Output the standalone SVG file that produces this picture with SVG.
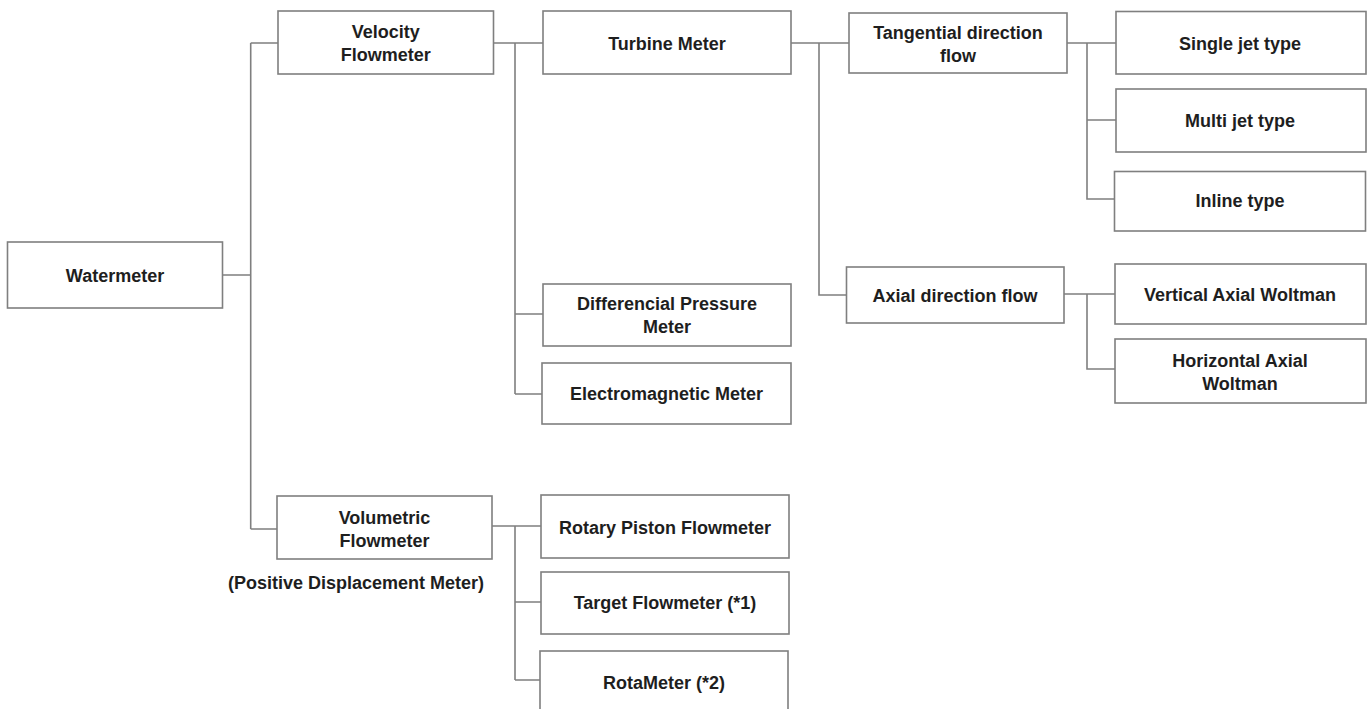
<svg xmlns="http://www.w3.org/2000/svg" width="1367" height="709" viewBox="0 0 1367 709">
<style>
.box{fill:#fff;stroke:#7f7f7f;stroke-width:1.6}
.lbl{font-family:"Liberation Sans",Arial,sans-serif;font-weight:bold;font-size:18px;fill:#1e1e1e;text-anchor:middle}
.con{fill:none;stroke:#7f7f7f;stroke-width:1.6}
</style>
<rect width="1367" height="709" fill="#fff"/>
<g id="connectors" class="con">
<path d="M222.5 275H250.7M250.7 43V529M250.7 43H278M250.7 529H277"/>
<path d="M493.5 43H543M515 43V394M515 314H543M515 394H542"/>
<path d="M492 526H541M515 526V680M515 602H541M515 680H540"/>
<path d="M791 43H849M819 43V295H846.5"/>
<path d="M1067 43H1116M1087 43V199H1114.5M1087 120H1116"/>
<path d="M1064 294H1115M1087 294V369H1115"/>
</g>
<g id="watermeter"><rect class="box" x="7.5" y="242" width="215" height="66"/><text class="lbl" x="115" y="281.5">Watermeter</text></g>
<g id="velocity"><rect class="box" x="278" y="11" width="215.5" height="63"/><text class="lbl" x="385.8" y="37.5">Velocity</text><text class="lbl" x="385.8" y="60.5">Flowmeter</text></g>
<g id="volumetric"><rect class="box" x="277" y="496" width="215" height="63"/><text class="lbl" x="384.5" y="523.5">Volumetric</text><text class="lbl" x="384.5" y="546.5">Flowmeter</text></g>
<g id="pdm-note"><text class="lbl" x="356" y="589">(Positive Displacement Meter)</text></g>
<g id="turbine"><rect class="box" x="543" y="11" width="248" height="63"/><text class="lbl" x="667" y="49.5">Turbine Meter</text></g>
<g id="differencial"><rect class="box" x="543" y="284" width="248" height="62"/><text class="lbl" x="667" y="309.5">Differencial Pressure</text><text class="lbl" x="667" y="332.5">Meter</text></g>
<g id="electromagnetic"><rect class="box" x="542" y="363" width="249" height="61"/><text class="lbl" x="666.5" y="399.5">Electromagnetic Meter</text></g>
<g id="rotary"><rect class="box" x="541" y="495" width="248" height="63"/><text class="lbl" x="665" y="533.5">Rotary Piston Flowmeter</text></g>
<g id="target"><rect class="box" x="541" y="572" width="248" height="62"/><text class="lbl" x="665" y="608.5">Target Flowmeter (*1)</text></g>
<g id="rotameter"><rect class="box" x="540" y="651" width="248" height="70"/><text class="lbl" x="664" y="689">RotaMeter (*2)</text></g>
<g id="tangential"><rect class="box" x="849" y="13" width="218" height="60"/><text class="lbl" x="958" y="38.5">Tangential direction</text><text class="lbl" x="958" y="61.5">flow</text></g>
<g id="axial"><rect class="box" x="846.5" y="267" width="217.5" height="56"/><text class="lbl" x="955" y="301.5">Axial direction flow</text></g>
<g id="single-jet"><rect class="box" x="1116" y="11.5" width="250" height="62.5"/><text class="lbl" x="1240" y="49.5">Single jet type</text></g>
<g id="multi-jet"><rect class="box" x="1116" y="89" width="250" height="63"/><text class="lbl" x="1240" y="126.5">Multi jet type</text></g>
<g id="inline"><rect class="box" x="1114.5" y="171.5" width="251" height="59.5"/><text class="lbl" x="1240" y="206.5">Inline type</text></g>
<g id="vertical-axial"><rect class="box" x="1115" y="264" width="251" height="60"/><text class="lbl" x="1240" y="300.5">Vertical Axial Woltman</text></g>
<g id="horizontal-axial"><rect class="box" x="1115" y="339" width="251" height="64"/><text class="lbl" x="1240" y="366.5">Horizontal Axial</text><text class="lbl" x="1240" y="389.5">Woltman</text></g>
</svg>
